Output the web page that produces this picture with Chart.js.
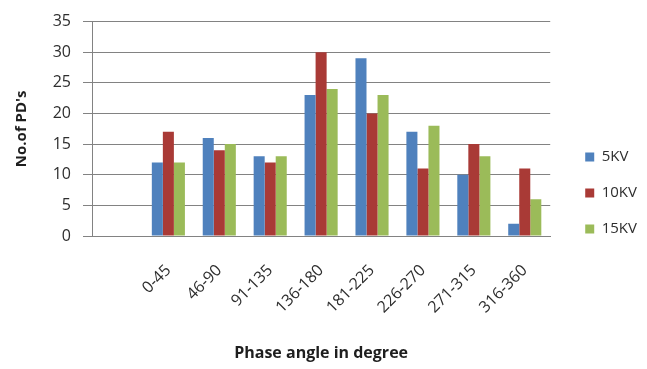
<!DOCTYPE html>
<html>
<head>
<meta charset="utf-8">
<script src="https://cdn.jsdelivr.net/npm/chart.js@4/dist/chart.umd.min.js"></script>
<style>
  html, body { margin: 0; padding: 0; background: #fff; }
  #wrap { width: 647px; height: 369px; }
</style>
</head>
<body>
<div id="wrap"><canvas id="c" width="647" height="369"></canvas></div>
<script>
// Phase-angle bins (the first slot is an empty spacer category)
const categories = ['', '0-45', '46-90', '91-135', '136-180', '181-225', '226-270', '271-315', '316-360'];
// Number of partial discharges per bin at each voltage
const pd5kv  = [null, 12, 16, 13, 23, 29, 17, 10, 2];
const pd10kv = [null, 17, 14, 12, 30, 20, 11, 15, 11];
const pd15kv = [null, 12, 15, 13, 24, 23, 18, 13, 6];
const seriesNames = ['5KV', '10KV', '15KV'];
const yTicks = [0, 5, 10, 15, 20, 25, 30, 35];

const FONT = "'Open Sans', 'Liberation Sans', sans-serif";
const gridColor = '#828282';
const textColor = '#2e2e2e';

new Chart(document.getElementById('c'), {
  type: 'bar',
  data: {
    labels: categories,
    datasets: [
      { label: seriesNames[0], data: pd5kv,  backgroundColor: '#4F81BD' },
      { label: seriesNames[1], data: pd10kv, backgroundColor: '#A93A36' },
      { label: seriesNames[2], data: pd15kv, backgroundColor: '#9BBB59' }
    ]
  },
  options: {
    responsive: false,
    devicePixelRatio: 1,
    animation: false,
    categoryPercentage: 0.65,
    barPercentage: 1.0,
    layout: { padding: { top: 17, right: 0, bottom: 0, left: 0 } },
    plugins: {
      tooltip: { enabled: false },
      legend: {
        position: 'right',
        labels: {
          font: { family: FONT, size: 15 },
          color: textColor,
          boxWidth: 9,
          boxHeight: 9,
          padding: 21
        }
      }
    },
    scales: {
      x: {
        grid: { display: false },
        border: { display: true, color: gridColor, width: 1 },
        ticks: {
          autoSkip: false,
          maxRotation: 45,
          minRotation: 45,
          padding: 17,
          color: textColor,
          font: { family: FONT, size: 16 }
        },
        title: {
          display: true,
          text: 'Phase angle in degree',
          color: '#1e1e1e',
          font: { family: FONT, size: 16, weight: 'bold' },
          padding: { top: 0, bottom: 6 }
        },
        afterFit: s => { s.height = 133; }
      },
      y: {
        min: 0,
        max: 35,
        afterBuildTicks: s => { s.ticks = yTicks.map(v => ({ value: v })); },
        grid: { color: gridColor, lineWidth: 1, tickLength: 9, drawTicks: true },
        border: { display: true, color: gridColor, width: 1 },
        ticks: {
          padding: 12,
          color: textColor,
          font: { family: FONT, size: 16 }
        },
        title: {
          display: true,
          text: "No.of PD's",
          color: '#1e1e1e',
          font: { family: FONT, size: 15, weight: 'bold' },
          padding: { top: 13, bottom: 0 }
        },
        afterFit: s => { s.width = 92; }
      },
      gap: {
        type: 'linear',
        position: 'right',
        grid: { display: false },
        border: { display: false },
        ticks: { display: false },
        afterFit: s => { s.width = 14; }
      }
    }
  }
});
</script>
</body>
</html>
